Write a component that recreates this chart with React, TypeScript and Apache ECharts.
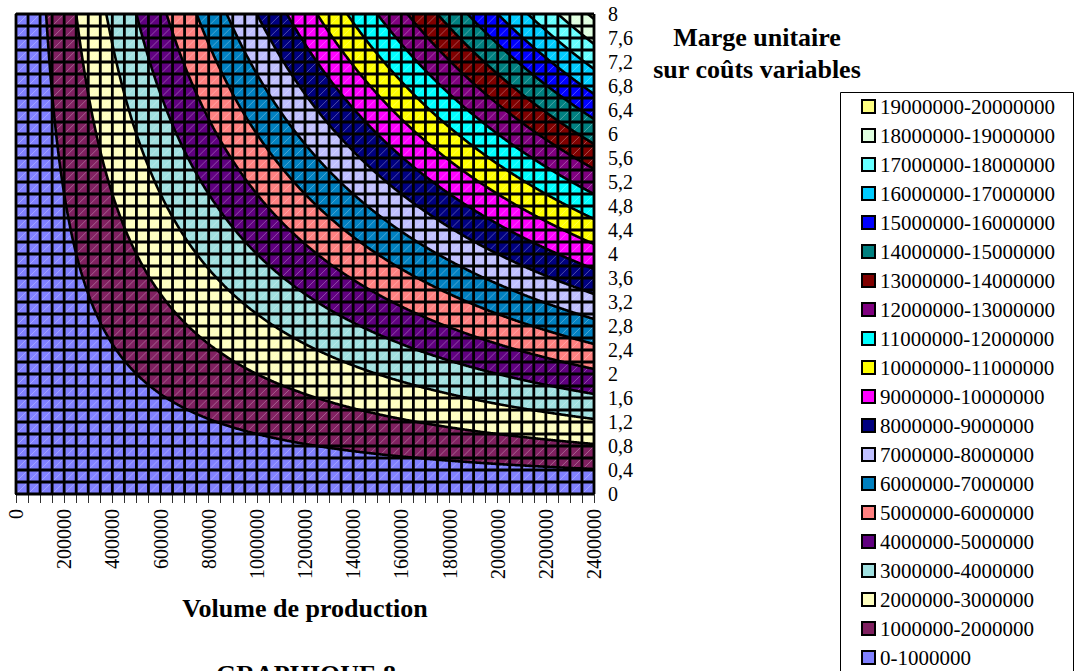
import React, { useEffect, useRef } from 'react';
import * as echarts from 'echarts';

// ---- data ----
const bandLower = [0, 1000000, 2000000, 3000000, 4000000, 5000000, 6000000, 7000000, 8000000, 9000000, 10000000, 11000000, 12000000, 13000000, 14000000, 15000000, 16000000, 17000000, 18000000, 19000000];
const bandUpper = [1000000, 2000000, 3000000, 4000000, 5000000, 6000000, 7000000, 8000000, 9000000, 10000000, 11000000, 12000000, 13000000, 14000000, 15000000, 16000000, 17000000, 18000000, 19000000, 20000000];
const bandLabels = ['0-1000000', '1000000-2000000', '2000000-3000000', '3000000-4000000', '4000000-5000000', '5000000-6000000', '6000000-7000000', '7000000-8000000', '8000000-9000000', '9000000-10000000', '10000000-11000000', '11000000-12000000', '12000000-13000000', '13000000-14000000', '14000000-15000000', '15000000-16000000', '16000000-17000000', '17000000-18000000', '18000000-19000000', '19000000-20000000'];
const bandColors = ['#8080FF', '#802060', '#FFFFC0', '#A0E0E0', '#600080', '#FF8080', '#0080C0', '#C0C0FF', '#000080', '#FF00FF', '#FFFF00', '#00FFFF', '#800080', '#800000', '#008080', '#0000FF', '#00CCFF', '#66FFFF', '#E0FFE0', '#FFFF80'];
const contourLevels = [1000000, 2000000, 3000000, 4000000, 5000000, 6000000, 7000000, 8000000, 9000000, 10000000, 11000000, 12000000, 13000000, 14000000, 15000000, 16000000, 17000000, 18000000, 19000000];

const volumeMin = 0;
const volumeMax = 2400000;
const volumeStep = 50000;
const volumeLabelStep = 200000;
const margeMin = 0;
const margeMax = 8;
const margeStep = 0.2;
const margeLabelStep = 0.4;

const FONT = 'Liberation Serif';
const SAMPLES = 700;

function sampleXs(from: number, to: number): number[] {
  const xs: number[] = [];
  for (let i = 0; i <= SAMPLES; i++) xs.push(from + ((to - from) * i) / SAMPLES);
  return xs;
}

function bandRender(lo: number, hi: number) {
  return (params: any, api: any) => {
    const xs = sampleXs(volumeMin, volumeMax);
    [lo / margeMax, hi / margeMax].forEach((b) => {
      if (b > volumeMin && b < volumeMax) xs.push(b);
    });
    xs.sort((a, b) => a - b);
    const yHi = (x: number) => (x <= 0 ? margeMax : Math.min(margeMax, hi / x));
    const yLo = (x: number) => (lo === 0 ? 0 : x <= 0 ? margeMax : Math.min(margeMax, lo / x));
    const pts: number[][] = [];
    xs.forEach((x) => pts.push(api.coord([x, yHi(x)])));
    for (let i = xs.length - 1; i >= 0; i--) pts.push(api.coord([xs[i], yLo(xs[i])]));
    return {
      type: 'polygon',
      shape: { points: pts },
      style: { fill: api.visual('color'), stroke: null },
      silent: true,
    };
  };
}

function contourRender(params: any, api: any) {
  const children: any[] = [];
  contourLevels.forEach((lv) => {
    const x0 = lv / margeMax;
    if (x0 >= volumeMax) return;
    const pts = sampleXs(x0, volumeMax).map((x) => api.coord([x, lv / x]));
    children.push({
      type: 'polyline',
      shape: { points: pts },
      style: { stroke: '#000', lineWidth: 2.6, fill: null },
      silent: true,
    });
  });
  return { type: 'group', children };
}

function meshRender(params: any, api: any) {
  const children: any[] = [];
  const nx = Math.round((volumeMax - volumeMin) / volumeStep);
  const ny = Math.round((margeMax - margeMin) / margeStep);
  // faint diagonals inside each cell
  for (let c = -ny; c <= nx; c++) {
    const i0 = Math.max(c, 0);
    const j0 = i0 - c;
    const len = Math.min(nx - i0, ny - j0);
    if (len <= 0) continue;
    const p0 = api.coord([volumeMin + i0 * volumeStep, margeMin + j0 * margeStep]);
    const p1 = api.coord([volumeMin + (i0 + len) * volumeStep, margeMin + (j0 + len) * margeStep]);
    children.push({
      type: 'line',
      shape: { x1: p0[0], y1: p0[1], x2: p1[0], y2: p1[1] },
      style: { stroke: 'rgba(255,255,255,0.3)', lineWidth: 1 },
      silent: true,
    });
  }
  for (let i = 0; i <= nx; i++) {
    const x = volumeMin + i * volumeStep;
    const a = api.coord([x, margeMin]);
    const b = api.coord([x, margeMax]);
    children.push({
      type: 'line',
      shape: { x1: a[0], y1: a[1], x2: b[0], y2: b[1] },
      style: { stroke: '#000', lineWidth: 2.8 },
      silent: true,
    });
  }
  for (let j = 0; j <= ny; j++) {
    const y = margeMin + j * margeStep;
    const a = api.coord([volumeMin, y]);
    const b = api.coord([volumeMax, y]);
    children.push({
      type: 'line',
      shape: { x1: a[0], y1: a[1], x2: b[0], y2: b[1] },
      style: { stroke: '#000', lineWidth: 2.8 },
      silent: true,
    });
  }
  return { type: 'group', children };
}

export default function App() {
  const ref = useRef<HTMLDivElement>(null);
  useEffect(() => {
    if (!ref.current) return;
    const chart = echarts.init(ref.current, null, { renderer: 'svg' });
    const bandSeries = bandLabels.map((name, k) => ({
      type: 'custom',
      name,
      data: [[volumeMin, margeMin]],
      itemStyle: { color: bandColors[k] },
      renderItem: bandRender(bandLower[k], bandUpper[k]),
      z: 2,
      silent: true,
    }));
    const option: any = {
      animation: false,
      backgroundColor: '#fff',
      grid: { left: 16, top: 14, width: 578, height: 480 },
      xAxis: {
        type: 'value',
        min: volumeMin,
        max: volumeMax,
        interval: volumeStep,
        splitLine: { show: false },
        axisLine: { show: true, lineStyle: { color: '#000', width: 2 } },
        axisTick: { show: true, length: 9, lineStyle: { color: '#333', width: 1 } },
        axisLabel: {
          rotate: 90,
          margin: 15,
          fontFamily: FONT,
          fontSize: 20,
          color: '#000',
          formatter: (v: number) => (Math.round(v) % volumeLabelStep === 0 ? String(Math.round(v)) : ''),
        },
      },
      yAxis: {
        type: 'value',
        position: 'right',
        min: margeMin,
        max: margeMax,
        interval: margeStep,
        splitLine: { show: false },
        axisLine: { show: true, lineStyle: { color: '#000', width: 2 } },
        axisTick: { show: true, length: 10, lineStyle: { color: '#000', width: 1 } },
        axisLabel: {
          margin: 14,
          fontFamily: FONT,
          fontSize: 20,
          color: '#000',
          formatter: (v: number) => {
            const k = Math.round(v * 10) / 10;
            const r = k / margeLabelStep;
            return Math.abs(r - Math.round(r)) < 1e-6 ? String(k).replace('.', ',') : '';
          },
        },
      },
      legend: {
        data: bandLabels.slice().reverse(),
        orient: 'vertical',
        left: 861,
        top: 96,
        padding: 0,
        icon: 'rect',
        itemWidth: 13,
        itemHeight: 13,
        itemGap: 8,
        selectedMode: false,
        itemStyle: { borderColor: '#000', borderWidth: 2 },
        textStyle: { fontFamily: FONT, fontSize: 21, color: '#000', lineHeight: 21 },
      },
      graphic: [
        { type: 'rect', shape: { x: 840.5, y: 92.5, width: 233, height: 640 }, style: { fill: 'none', stroke: '#000', lineWidth: 1 } },
        { type: 'text', x: 757, y: 37, style: { text: 'Marge unitaire', font: `bold 26px "${FONT}"`, fill: '#000', align: 'center', verticalAlign: 'middle' } },
        { type: 'text', x: 757, y: 69, style: { text: 'sur coûts variables', font: `bold 26px "${FONT}"`, fill: '#000', align: 'center', verticalAlign: 'middle' } },
        { type: 'text', x: 305, y: 608, style: { text: 'Volume de production', font: `bold 26px "${FONT}"`, fill: '#000', align: 'center', verticalAlign: 'middle' } },
        { type: 'text', x: 306, y: 674, style: { text: 'GRAPHIQUE 8', font: `bold 26px "${FONT}"`, fill: '#000', align: 'center', verticalAlign: 'middle' } },
      ],
      series: [
        ...bandSeries,
        { type: 'custom', data: [[volumeMin, margeMin]], renderItem: meshRender, z: 3, silent: true },
        { type: 'custom', data: [[volumeMin, margeMin]], renderItem: contourRender, z: 4, silent: true },
      ],
    };
    chart.setOption(option);
    return () => chart.dispose();
  }, []);
  return (
    <div
      ref={ref}
      style={{ position: 'fixed', left: 0, top: 0, width: 1075, height: 671, background: '#fff' }}
    />
  );
}
